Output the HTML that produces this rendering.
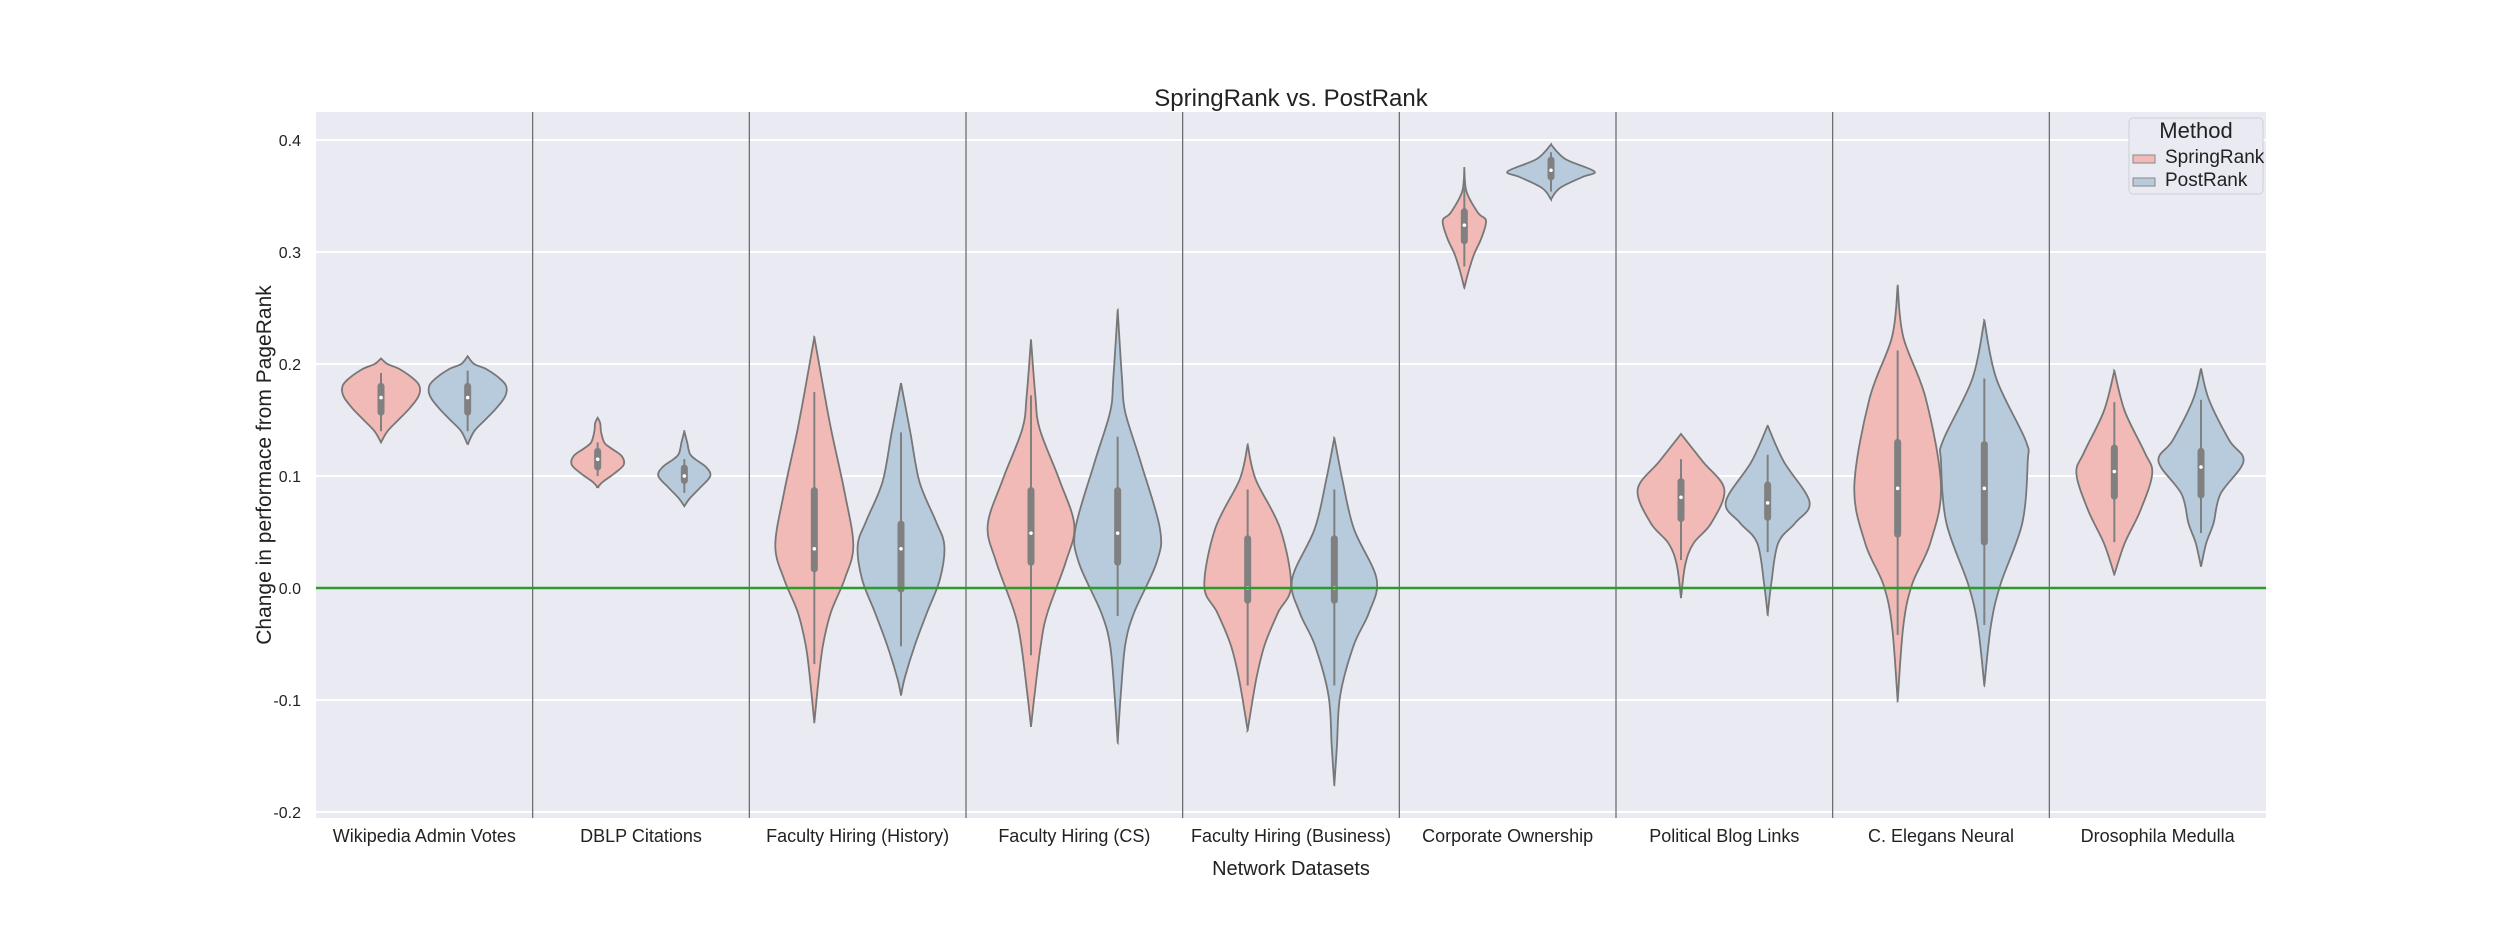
<!DOCTYPE html>
<html><head><meta charset="utf-8"><style>
body{margin:0;background:#fff;}
svg{display:block;font-family:"Liberation Sans",Arial,sans-serif;}
</style></head><body>
<svg id="chart" width="2520" height="936" viewBox="0 0 2520 936" xmlns="http://www.w3.org/2000/svg">
<rect x="0" y="0" width="2520" height="936" fill="#ffffff"/>
<text x="1291" y="106" font-size="24" text-anchor="middle" fill="#222">SpringRank vs. PostRank</text>
<text x="1291" y="875" font-size="20" text-anchor="middle" fill="#222">Network Datasets</text>
<text transform="translate(271,465) rotate(-90)" font-size="21" text-anchor="middle" fill="#222">Change in performace from PageRank</text>
<g id="plot"></g>
<g>
<rect x="2129" y="118" width="134" height="76" rx="4" fill="#eaeaf2" stroke="#cfcfd6" stroke-width="1"/>
<text x="2196" y="138" font-size="22" text-anchor="middle" fill="#222">Method</text>
<rect x="2133" y="155" width="22" height="8" fill="#f1bab6" stroke="#888" stroke-width="1"/>
<text x="2165" y="163" font-size="19" fill="#222">SpringRank</text>
<rect x="2133" y="178" width="22" height="8" fill="#b7cbdd" stroke="#888" stroke-width="1"/>
<text x="2165" y="186" font-size="19" fill="#222">PostRank</text>
</g>
</svg>
<script>
const categories=["Wikipedia Admin Votes","DBLP Citations","Faculty Hiring (History)","Faculty Hiring (CS)","Faculty Hiring (Business)","Corporate Ownership","Political Blog Links","C. Elegans Neural","Drosophila Medulla"];
const yTicks=[0.4,0.3,0.2,0.1,0.0,-0.1,-0.2];
const yTickLabels=["0.4","0.3","0.2","0.1","0.0","-0.1","-0.2"];
// density profiles: [value, half-width as fraction of category]
const springProfiles=[
[[0.13,0],[0.14,0.03],[0.15,0.08],[0.16,0.13],[0.17,0.17],[0.178,0.18],[0.185,0.16],[0.195,0.09],[0.2,0.03],[0.205,0]],
[[0.09,0],[0.095,0.025],[0.102,0.075],[0.11,0.12],[0.118,0.11],[0.125,0.06],[0.13,0.03],[0.14,0.015],[0.147,0.012],[0.152,0]],
[[-0.12,0],[-0.081,0.02],[-0.051,0.04],[-0.022,0.076],[0.008,0.14],[0.038,0.18],[0.085,0.14],[0.139,0.08],[0.175,0.045],[0.224,0]],
[[-0.124,0],[-0.096,0.016],[-0.051,0.045],[-0.022,0.076],[0.023,0.16],[0.056,0.2],[0.097,0.13],[0.142,0.04],[0.172,0.02],[0.222,0]],
[[-0.127,0],[-0.081,0.04],[-0.051,0.078],[-0.022,0.14],[0.002,0.2],[0.053,0.15],[0.097,0.037],[0.128,0]],
[[0.268,0],[0.283,0.02],[0.298,0.045],[0.313,0.08],[0.328,0.1],[0.335,0.063],[0.354,0.01],[0.375,0]],
[[-0.009,0],[0.021,0.02],[0.04,0.058],[0.058,0.14],[0.088,0.2],[0.113,0.1],[0.1375,0]],
[[-0.101,0],[-0.034,0.026],[0.003,0.066],[0.04,0.15],[0.091,0.2],[0.169,0.13],[0.224,0.026],[0.27,0]],
[[0.012,0],[0.04,0.048],[0.069,0.12],[0.102,0.175],[0.121,0.14],[0.158,0.048],[0.194,0]]
];
const postProfiles=[
[[0.128,0],[0.14,0.03],[0.15,0.08],[0.16,0.13],[0.17,0.17],[0.178,0.18],[0.185,0.16],[0.195,0.09],[0.2,0.03],[0.207,0]],
[[0.073,0],[0.08,0.025],[0.09,0.075],[0.1,0.12],[0.108,0.1],[0.115,0.05],[0.12,0.025],[0.13,0.013],[0.14,0]],
[[-0.096,0],[-0.081,0.016],[-0.051,0.064],[-0.022,0.12],[0.008,0.18],[0.038,0.2],[0.06,0.16],[0.095,0.085],[0.139,0.043],[0.183,0]],
[[-0.138,0],[-0.096,0.014],[-0.051,0.035],[-0.022,0.076],[0.023,0.18],[0.053,0.195],[0.112,0.107],[0.157,0.035],[0.187,0.02],[0.248,0]],
[[-0.176,0],[-0.141,0.012],[-0.096,0.027],[-0.051,0.09],[-0.022,0.16],[0.008,0.195],[0.053,0.09],[0.097,0.037],[0.134,0]],
[[0.347,0],[0.357,0.04],[0.367,0.145],[0.372,0.2],[0.383,0.066],[0.396,0]],
[[-0.024,0],[0.003,0.016],[0.04,0.048],[0.058,0.127],[0.077,0.193],[0.113,0.074],[0.145,0]],
[[-0.087,0],[-0.034,0.03],[0.003,0.074],[0.058,0.175],[0.113,0.2],[0.132,0.19],[0.187,0.055],[0.239,0]],
[[0.019,0],[0.04,0.024],[0.058,0.058],[0.084,0.09],[0.113,0.196],[0.132,0.13],[0.168,0.037],[0.196,0]]
];
// [whiskerLow, q1, median, q3, whiskerHigh]
const springStats=[[0.14,0.157,0.17,0.18,0.192],[0.1,0.108,0.115,0.122,0.13],[-0.068,0.017,0.035,0.087,0.175],[-0.06,0.023,0.049,0.087,0.172],[-0.087,-0.011,0.0,0.044,0.088],[0.287,0.31,0.324,0.336,0.359],[0.025,0.062,0.081,0.095,0.115],[-0.042,0.048,0.089,0.13,0.212],[0.041,0.082,0.104,0.125,0.166]];
const postStats=[[0.14,0.157,0.17,0.18,0.194],[0.085,0.096,0.1,0.107,0.115],[-0.052,-0.001,0.035,0.057,0.139],[-0.025,0.023,0.049,0.087,0.135],[-0.087,-0.011,0.0,0.044,0.088],[0.354,0.367,0.373,0.382,0.389],[0.032,0.063,0.076,0.092,0.119],[-0.033,0.041,0.089,0.128,0.187],[0.049,0.083,0.108,0.122,0.168]];

const NS="http://www.w3.org/2000/svg";
const L=316,R=2266,T=112,B=818;
const catW=(R-L)/categories.length;
const yScale=v=>588-v*1120;
const xCat=i=>L+catW*(i+0.5);
const g=document.getElementById('plot');
function mk(tag,attrs){const e=document.createElementNS(NS,tag);for(const k in attrs)e.setAttribute(k,attrs[k]);g.appendChild(e);return e;}

let e=mk('rect',{x:L,y:T,width:R-L,height:B-T,fill:'#eaeaf2'});


yTicks.forEach((v,i)=>{
  let l=mk('line',{x1:L,x2:R,y1:yScale(v),y2:yScale(v),stroke:'#fff','stroke-width':2});
  
  
  let t=mk('text',{x:L-15,y:yScale(v)+6,'font-size':16,'text-anchor':'end',fill:'#222'});
  t.textContent=yTickLabels[i];
  
  
});
for(let i=1;i<categories.length;i++){
  let l=mk('line',{x1:L+catW*i,x2:L+catW*i,y1:T,y2:B,stroke:'#666','stroke-width':1.2});
  
  
}
categories.forEach((c,i)=>{
  let t=mk('text',{x:xCat(i),y:842,'font-size':18,'text-anchor':'middle',fill:'#222'});
  t.textContent=c;
  
  
});
function smooth(pts){
  let d='M'+pts[0][0]+','+pts[0][1];
  for(let i=0;i<pts.length-1;i++){
    const p0=pts[Math.max(i-1,0)],p1=pts[i],p2=pts[i+1],p3=pts[Math.min(i+2,pts.length-1)];
    const c1=[p1[0]+(p2[0]-p0[0])/6,p1[1]+(p2[1]-p0[1])/6];
    const c2=[p2[0]-(p3[0]-p1[0])/6,p2[1]-(p3[1]-p1[1])/6];
    d+=' C'+c1[0].toFixed(1)+','+c1[1].toFixed(1)+' '+c2[0].toFixed(1)+','+c2[1].toFixed(1)+' '+p2[0].toFixed(1)+','+p2[1].toFixed(1);
  }
  return d;
}
function violin(cx,prof,stats,fill,name){
  const right=prof.map(p=>[cx+p[1]*catW,yScale(p[0])]);
  const left=prof.slice().reverse().map(p=>[cx-p[1]*catW,yScale(p[0])]);
  const d=smooth(right)+' L'+smooth(left).slice(1)+' Z';
  let p=mk('path',{d:d,fill:fill,stroke:'#777','stroke-width':1.8});
  
  
  let w=mk('line',{x1:cx,x2:cx,y1:yScale(stats[0]),y2:yScale(stats[4]),stroke:'#808080','stroke-width':2});
  
  
  let b=mk('line',{x1:cx,x2:cx,y1:yScale(stats[1]),y2:yScale(stats[3]),stroke:'#808080','stroke-width':7,'stroke-linecap':'round'});
  
  
  let m=mk('circle',{cx:cx,cy:yScale(stats[2]),r:1.8,fill:'#fff'});
  
  
}
categories.forEach((c,i)=>{
  violin(xCat(i)-0.2*catW,springProfiles[i],springStats[i],'#f1bab6','violin-springrank');
  violin(xCat(i)+0.2*catW,postProfiles[i],postStats[i],'#b7cbdd','violin-postrank');
});
let z=mk('line',{x1:L,x2:R,y1:yScale(0),y2:yScale(0),stroke:'#2e9a2e','stroke-width':2.5});


</script>
</body></html>
